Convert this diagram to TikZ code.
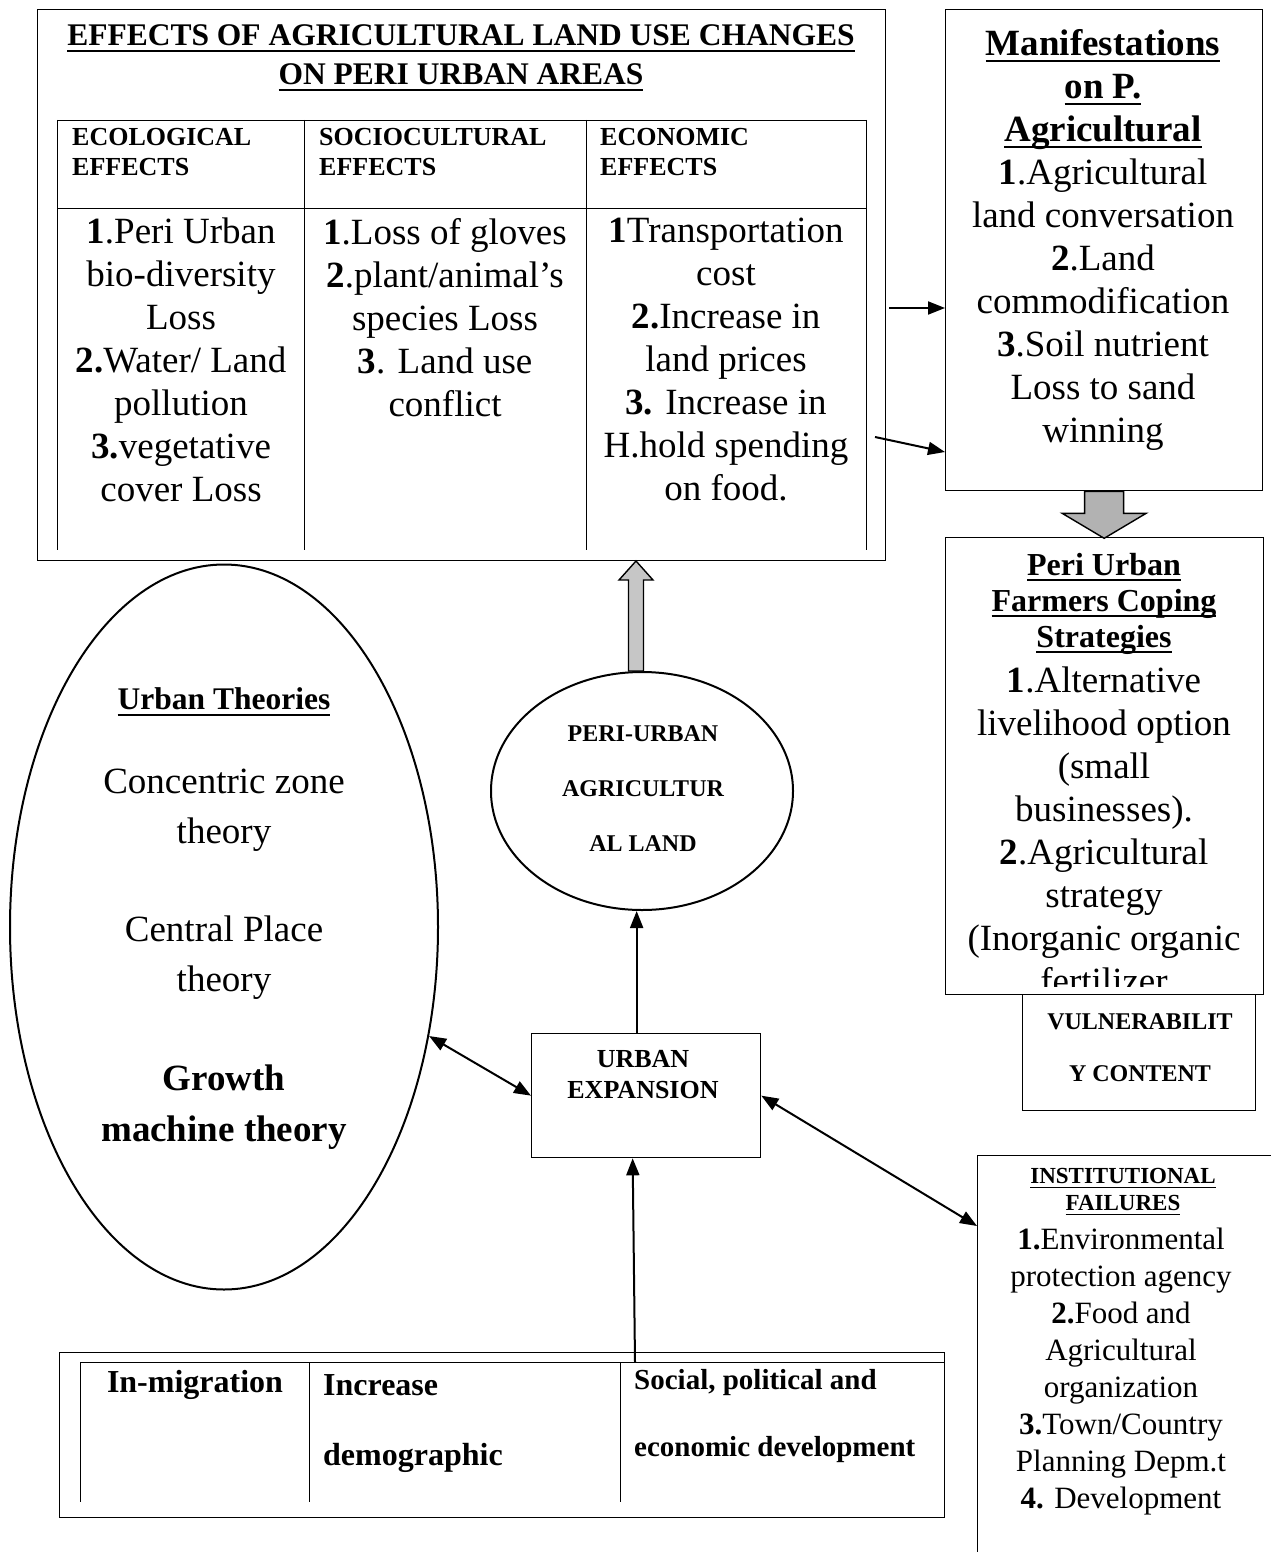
\documentclass[tikz,border=0pt]{standalone}
\usepackage{fontspec}
\setmainfont{Liberation Serif}
\usetikzlibrary{arrows.meta,shapes.geometric,calc}
\newcommand\fs[2]{\fontsize{#1}{#2}\selectfont}
\newcommand\ulin[1]{\leavevmode\setbox0\hbox{#1}\dp0=0pt\vtop{\copy0\kern0.12em\hrule height0.07em}}
\begin{document}
\begin{tikzpicture}[x=1pt,y=-1pt,
  box/.style={draw, line width=1.3pt, anchor=north west, inner sep=0pt},
  tline/.style={line width=0.9pt},
  arr/.style={line width=2pt, -{Triangle[length=17pt,width=13pt]}},
  darr/.style={line width=2pt, {Triangle[length=17pt,width=13pt]}-{Triangle[length=17pt,width=13pt]}},
  txt/.style={inner sep=0pt, align=center},
  blockarr/.style={line width=1.4pt, fill=gray!60}]
\fill[white] (0,0) rectangle (1271,1552);
\useasboundingbox (0,0) rectangle (1271,1552);

% ---------- effects box ----------
\node[box, minimum width=848pt, minimum height=551pt] (eff) at (37,9) {};
\node[txt, font=\fs{31.5}{39}\bfseries] (efftitle) at (461,58)
  {\ulin{EFFECTS OF AGRICULTURAL LAND USE CHANGES}\\\ulin{ON PERI URBAN AREAS}};
\draw[tline] (57,120) -- (866,120) (57,208) -- (866,208);
\foreach \x in {57,304,586,866} \draw[tline] (\x,120) -- (\x,550);
\node[txt, align=left, anchor=west, font=\fs{26}{30}\bfseries] (h1) at (72,152) {ECOLOGICAL\\EFFECTS};
\node[txt, align=left, anchor=west, font=\fs{26}{30}\bfseries] (h2) at (319,152) {SOCIOCULTURAL\\EFFECTS};
\node[txt, align=left, anchor=west, font=\fs{26}{30}\bfseries] (h3) at (600,152) {ECONOMIC\\EFFECTS};
\node[txt, anchor=north, font=\fs{37}{43}] (c1) at (181,218)
  {\textbf{1}.Peri Urban\\bio-diversity\\Loss\\\textbf{2.}Water/ Land\\pollution\\\textbf{3.}vegetative\\cover Loss};
\node[txt, anchor=north, font=\fs{37}{43}] (c2) at (445,218)
  {\textbf{1}.Loss of gloves\\\textbf{2}.plant/animal’s\\species Loss\\\textbf{3}. Land use\\conflict};
\node[txt, anchor=north, font=\fs{37}{43}] (c3) at (726,218)
  {\textbf{1}Transportation\\cost\\\textbf{2.}Increase in\\land prices\\\textbf{3.} Increase in\\H.hold spending\\on food.};

% ---------- manifestations ----------
\node[box, minimum width=317pt, minimum height=481pt] (man) at (945,9) {};
\node[txt, anchor=north, font=\fs{37}{43}] (mantext) at (1103,29)
  {\ulin{\textbf{Manifestations}}\\\ulin{\textbf{on P.}}\\\ulin{\textbf{Agricultural}}\\\textbf{1}.Agricultural\\land conversation\\\textbf{2}.Land\\commodification\\\textbf{3}.Soil nutrient\\Loss to sand\\winning};
\coordinate (a1) at (889,308);
\draw[arr] (a1) -- (a1 -| man.west);
\coordinate (a2) at (875,437);
\draw[arr] (a2) -- ($(man.north west)+(0,443)$);

% ---------- vulnerability & coping ----------
\node[box, minimum width=233pt, minimum height=116pt] (vul) at (1022,994) {};
\node[txt, font=\fs{24}{52}\bfseries] (vultext) at (1140,1048) {VULNERABILIT\\Y CONTENT};
\node[box, fill=white, minimum width=318pt, minimum height=457pt] (cope) at (945,537) {};
\begin{scope}
\clip (945,537) rectangle (1263,986);
\node[txt, anchor=north, font=\fs{32}{36}\bfseries] (copetitle) at (1104,553)
  {\ulin{Peri Urban}\\\ulin{Farmers Coping}\\\ulin{Strategies}};
\node[txt, anchor=north, font=\fs{37}{43}] (copetext) at (1104,667)
  {\textbf{1}.Alternative\\livelihood option\\(small\\businesses).\\\textbf{2}.Agricultural\\strategy\\(Inorganic organic\\fertilizer};
\end{scope}
\begin{scope}[shift={(man.south)}]
\draw[blockarr] (-19.5,0) -- (19.5,0) -- (19.5,22) -- (42,22) -- (0,47) -- (-42,22) -- (-19.5,22) -- cycle;
\end{scope}

% ---------- institutional ----------
\node[box, minimum width=320pt, minimum height=420pt] (inst) at (977,1155) {};
\node[txt, font=\fs{23}{27}\bfseries] (insttitle) at (1123,1192) {\ulin{INSTITUTIONAL}\\\ulin{FAILURES}};
\node[txt, anchor=north, font=\fs{31}{37}] (insttext) at (1121,1228)
  {\textbf{1.}Environmental\\protection agency\\\textbf{2.}Food and\\Agricultural\\organization\\\textbf{3.}Town/Country\\Planning Depm.t\\\textbf{4.} Development};

% ---------- peri-urban agricultural land ----------
\node[draw, ellipse, line width=2pt, minimum width=302pt, minimum height=238pt, inner sep=0pt] (pua) at (642,791) {};
\node[txt, font=\fs{24}{55}\bfseries] (puatext) at (643,789) {PERI-URBAN\\AGRICULTUR\\AL LAND};
\begin{scope}[shift={(636,671)}]
\draw[blockarr, fill=gray!45] (-7.5,0) -- (7.5,0) -- (7.5,-91) -- (17,-91) -- (0,-110) -- (-17,-91) -- (-7.5,-91) -- cycle;
\end{scope}

% ---------- urban theories ----------
\node[draw, ellipse, line width=2pt, minimum width=428pt, minimum height=725pt, inner sep=0pt] (uth) at (224,927) {};
\node[txt, font=\fs{31.5}{37}\bfseries] (uth1) at (224,702) {\ulin{Urban Theories}};
\node[txt, font=\fs{37}{50}] (uth2) at (224,810) {Concentric zone\\theory};
\node[txt, font=\fs{37}{50}] (uth3) at (224,958) {Central Place\\theory};
\node[txt, font=\fs{37}{51}\bfseries] (uth4) at (224,1107) {Growth\\machine theory};

% ---------- urban expansion ----------
\node[box, minimum width=229pt, minimum height=124pt] (ue) at (531,1033) {};
\node[txt, font=\fs{26}{31}\bfseries] (uet) at (643,1075) {URBAN\\EXPANSION};
\draw[arr] ([xshift=-9.5pt]ue.north) -- ([xshift=-9.5pt]ue.north |- pua.south);
\draw[darr] (uth.-28.3) -- (ue.west);
\draw[darr] (ue.east) -- ($(inst.north west)+(0,71)$);

% ---------- bottom table ----------
\node[box, minimum width=885pt, minimum height=165pt] (btab) at (59,1352) {};
\draw[tline] (80,1362) -- (944,1362);
\foreach \x in {80,309,620} \draw[tline] (\x,1362) -- (\x,1502);
\node[txt, font=\fs{32}{38}\bfseries] (bt1) at (195,1385) {In-migration};
\node[txt, anchor=west, font=\fs{32}{38}\bfseries] (bt2a) at (323,1385) {Increase};
\node[txt, anchor=west, font=\fs{32}{38}\bfseries] (bt2b) at (323,1458) {demographic};
\node[txt, anchor=west, font=\fs{29}{34}\bfseries] (bt3a) at (634,1383) {Social, political and};
\node[txt, anchor=west, font=\fs{29}{34}\bfseries] (bt3b) at (634,1450) {economic development};
\coordinate (btarr) at (635,1362);
\draw[arr] (btarr) -- ([xshift=-13.5pt]ue.south);
\end{tikzpicture}
\end{document}
